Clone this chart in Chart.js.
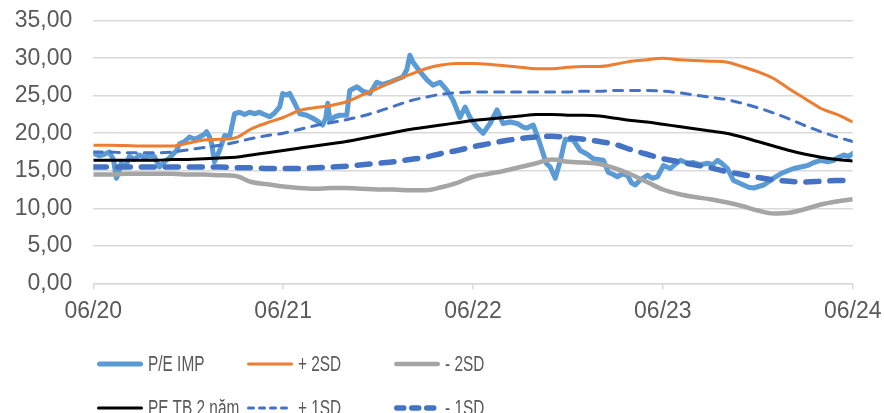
<!DOCTYPE html>
<html>
<head>
<meta charset="utf-8">
<script src="https://cdn.jsdelivr.net/npm/chart.js@4/dist/chart.umd.min.js"></script>
<style>
  html, body { margin: 0; padding: 0; background: #fff; }
  #wrap { position: relative; width: 884px; height: 413px; overflow: hidden; }
  #chart { position: absolute; left: 0; top: 0; }
  #legend { position: absolute; left: 0; top: 0; width: 884px; height: 413px; pointer-events: none;
            font-family: "Liberation Sans", Arial, sans-serif; }
  .item { position: absolute; display: flex; align-items: center; height: 30px; margin-top: -15px; }
  .item svg { display: block; }
  .item span { font-size: 22px; color: #595959; white-space: nowrap; margin-left: 5px;
               display: inline-block; transform: scaleX(0.7); transform-origin: left center; }
</style>
</head>
<body>
<div id="wrap">
  <canvas id="chart" width="884" height="330"></canvas>
  <div id="legend"></div>
</div>
<script>
// Axis labels
const tickMonths = [0, 12, 24, 36, 48];
const tickLabels = ['06/20', '06/21', '06/22', '06/23', '06/24'];

// Band series sampled monthly from 06/2020 (month 0) to 06/2024 (month 48)
const bandMonths = Array.from({ length: 49 }, (_, i) => i);
const plus2SD = [18.4, 18.4, 18.35, 18.3, 18.3, 18.3, 18.7, 19.1, 19.2, 19.4, 20.6, 21.4,
  22.1, 23.0, 23.4, 23.7, 24.2, 25.1, 26.0, 27.0, 27.8, 28.6, 29.1, 29.3,
  29.3, 29.2, 29.0, 28.8, 28.6, 28.6, 28.8, 28.9, 28.9, 29.2, 29.6, 29.8,
  30.0, 29.8, 29.7, 29.6, 29.5, 28.9, 28.2, 27.3, 25.9, 24.6, 23.3, 22.5, 21.5];
const plus1SD = [17.5, 17.5, 17.4, 17.4, 17.4, 17.5, 17.8, 18.1, 18.4, 18.8, 19.3, 19.7,
  20.0, 20.5, 21.0, 21.4, 21.8, 22.3, 22.9, 23.6, 24.3, 24.8, 25.2, 25.4,
  25.5, 25.5, 25.5, 25.5, 25.5, 25.5, 25.5, 25.6, 25.6, 25.7, 25.7, 25.7,
  25.6, 25.4, 25.1, 24.8, 24.5, 24.0, 23.4, 22.7, 21.9, 21.0, 20.2, 19.5, 18.9];
const mean2Y = [16.4, 16.4, 16.4, 16.4, 16.4, 16.5, 16.5, 16.6, 16.7, 16.8, 17.1, 17.4,
  17.7, 18.0, 18.3, 18.6, 18.9, 19.3, 19.7, 20.1, 20.5, 20.8, 21.1, 21.4,
  21.7, 21.9, 22.1, 22.3, 22.5, 22.5, 22.4, 22.4, 22.3, 22.0, 21.7, 21.5,
  21.2, 20.9, 20.6, 20.3, 20.0, 19.5, 18.9, 18.3, 17.7, 17.2, 16.8, 16.5, 16.3];
const minus1SD = [15.5, 15.5, 15.5, 15.5, 15.5, 15.5, 15.5, 15.5, 15.5, 15.4, 15.4, 15.3,
  15.3, 15.3, 15.4, 15.5, 15.6, 15.8, 16.0, 16.2, 16.5, 16.8, 17.3, 17.7,
  18.2, 18.6, 19.0, 19.3, 19.5, 19.6, 19.4, 19.2, 18.9, 18.5, 17.8, 17.2,
  16.6, 16.2, 15.8, 15.4, 14.9, 14.5, 14.1, 13.8, 13.6, 13.5, 13.6, 13.7, 13.7];
const minus2SD = [14.5, 14.5, 14.6, 14.6, 14.6, 14.6, 14.5, 14.5, 14.4, 14.3, 13.5, 13.2,
  12.9, 12.7, 12.6, 12.7, 12.7, 12.6, 12.5, 12.5, 12.4, 12.4, 12.8, 13.4,
  14.2, 14.6, 15.0, 15.5, 16.0, 16.5, 16.2, 16.1, 15.9, 15.3, 14.5, 13.5,
  12.5, 11.9, 11.5, 11.2, 10.8, 10.3, 9.7, 9.3, 9.4, 9.9, 10.5, 10.9, 11.2];

// Daily P/E, sampled (months since 06/2020)
const peMonths = [0, 0.38, 0.70, 1.01, 1.27, 1.46, 1.65, 1.77, 2.03, 2.28,
  2.60, 2.91, 3.23, 3.55, 3.86, 4.18, 4.50, 4.81, 5.26, 5.45,
  5.76, 6.08, 6.40, 6.71, 6.97, 7.16, 7.35, 7.47, 7.66, 7.98,
  8.30, 8.61, 8.93, 9.25, 9.56, 9.88, 10.20, 10.51, 10.70, 11.15,
  11.46, 11.78, 11.97, 12.22, 12.41, 12.73, 13.05, 13.49, 13.87, 14.19,
  14.50, 14.69, 14.82, 14.95, 15.26, 15.58, 16.02, 16.21, 16.66, 17.04,
  17.48, 17.92, 18.30, 18.75, 19.19, 19.57, 19.82, 20.01, 20.20, 20.65,
  21.09, 21.47, 21.91, 22.36, 22.74, 23.18, 23.50, 23.81, 24.26, 24.64,
  25.08, 25.52, 25.90, 26.35, 26.79, 27.17, 27.42, 27.80, 28.06, 28.37,
  28.63, 28.88, 29.20, 29.51, 29.83, 30.34, 30.78, 31.22, 31.60, 32.24,
  32.55, 32.87, 33.12, 33.44, 33.76, 34.01, 34.26, 34.58, 35.02, 35.34,
  35.66, 36.04, 36.48, 36.80, 37.11, 37.56, 37.94, 38.38, 38.82, 39.14,
  39.46, 39.77, 40.09, 40.47, 40.79, 41.10, 41.42, 41.73, 42.05, 42.37,
  42.81, 43.13, 43.44, 43.89, 44.27, 44.71, 45.15, 45.54, 45.98, 46.42,
  46.80, 47.12, 47.44, 47.75, 48.00];
const peValues = [17.3, 17.0, 17.2, 17.5, 16.5, 14.0, 15.0, 16.0, 15.5, 16.9,
  16.5, 17.1, 16.8, 17.0, 16.9, 15.5, 16.2, 16.7, 17.7, 18.6,
  18.9, 19.5, 19.2, 19.5, 19.8, 20.2, 19.5, 18.7, 16.2, 17.7,
  19.7, 19.5, 22.6, 22.8, 22.5, 22.8, 22.6, 22.8, 22.6, 22.2,
  22.7, 23.5, 25.3, 25.1, 25.3, 24.0, 22.6, 22.4, 22.0, 21.6,
  21.1, 22.0, 24.0, 21.7, 22.2, 22.4, 22.4, 25.7, 26.2, 25.6,
  25.3, 26.8, 26.5, 26.8, 27.2, 27.5, 28.5, 30.4, 29.5, 28.2,
  27.1, 26.4, 26.8, 25.7, 24.4, 22.1, 23.5, 22.1, 20.8, 20.0,
  21.3, 23.1, 21.3, 21.5, 21.3, 20.8, 20.7, 21.1, 19.7, 17.7,
  16.0, 15.5, 14.0, 16.3, 19.2, 19.1, 17.7, 17.2, 16.6, 16.4,
  14.8, 14.5, 14.2, 14.6, 14.4, 13.4, 13.1, 13.8, 14.4, 14.0,
  14.2, 15.7, 15.3, 15.9, 16.4, 16.0, 16.1, 15.8, 16.0, 15.8,
  16.4, 15.9, 15.3, 13.7, 13.4, 13.1, 12.8, 12.7, 12.9, 13.1,
  13.7, 14.2, 14.6, 15.0, 15.3, 15.5, 15.7, 16.1, 16.4, 16.2,
  16.4, 16.8, 17.1, 16.9, 17.3];

const seriesNames = ['P/E IMP', '+ 2SD', '- 2SD', 'PE TB 2 năm', '+ 1SD', '- 1SD'];

const pts = (xs, ys) => xs.map((x, i) => ({ x, y: ys[i] }));
const smooth = { tension: 0.4, cubicInterpolationMode: 'monotone' };

const datasets = [
  { label: seriesNames[0], data: pts(peMonths, peValues), borderColor: '#5b9bd5', borderWidth: 5,
    tension: 0, order: 6, borderJoinStyle: 'round', borderCapStyle: 'round', legendDash: [] },
  { label: seriesNames[1], data: pts(bandMonths, plus2SD), borderColor: '#ed7d31', borderWidth: 3,
    ...smooth, order: 5, legendDash: [] },
  { label: seriesNames[2], data: pts(bandMonths, minus2SD), borderColor: '#a5a5a5', borderWidth: 4.5,
    ...smooth, order: 4, legendDash: [] },
  { label: seriesNames[3], data: pts(bandMonths, mean2Y), borderColor: '#000000', borderWidth: 3,
    ...smooth, order: 3, legendDash: [] },
  { label: seriesNames[4], data: pts(bandMonths, plus1SD), borderColor: '#4472c4', borderWidth: 3,
    borderDash: [9, 8], borderCapStyle: 'round', ...smooth, order: 2, legendDash: [5, 6] },
  { label: seriesNames[5], data: pts(bandMonths, minus1SD), borderColor: '#4472c4', borderWidth: 5.5,
    borderDash: [13, 11], borderCapStyle: 'round', ...smooth, order: 1, legendDash: [7, 8] }
];

const tickFont = { family: '"Liberation Sans", Arial, sans-serif', size: 23 };
const textColor = '#595959';
const gridColor = '#d9d9d9';

const chart = new Chart(document.getElementById('chart'), {
  type: 'line',
  data: { datasets },
  options: {
    responsive: false,
    animation: false,
    // the plot area spans x 93.3..852.7 and y 20.7..283.3
    layout: { padding: { left: 0, right: 31.3, top: 20.7, bottom: 0 } },
    elements: { point: { radius: 0, hoverRadius: 0 } },
    plugins: { legend: { display: false }, tooltip: { enabled: false } },
    scales: {
      x: {
        type: 'linear', min: 0, max: 48,
        afterBuildTicks: (s) => { s.ticks = tickMonths.map(v => ({ value: v })); },
        afterFit: (s) => { s.height = 46.7; s.paddingLeft = 0; s.paddingRight = 0; },
        ticks: {
          autoSkip: false, maxRotation: 0, padding: 9, color: textColor, font: tickFont,
          callback: (v, i) => tickLabels[i]
        },
        grid: { drawOnChartArea: false, drawTicks: true, tickLength: 6, color: gridColor, lineWidth: 1.5 },
        border: { display: true, color: gridColor, width: 1.5 }
      },
      y: {
        min: 0, max: 35,
        afterFit: (s) => { s.width = 93.3; s.paddingTop = 0; s.paddingBottom = 0; },
        ticks: {
          stepSize: 5, padding: 21, color: textColor, font: tickFont,
          callback: (v) => v.toFixed(2).replace('.', ',')
        },
        grid: { color: gridColor, lineWidth: 1.5, drawTicks: false },
        border: { display: false }
      }
    }
  }
});

// Legend: three columns, two rows, built from the chart's datasets
const legendCols = [97, 247, 394];
const legendRows = [364, 408];
const legendEl = document.getElementById('legend');
chart.data.datasets.forEach((ds, i) => {
  const item = document.createElement('div');
  item.className = 'item';
  item.style.left = legendCols[i % 3] + 'px';
  item.style.top = legendRows[Math.floor(i / 3)] + 'px';
  const w = 46, h = 12, lw = ds.borderWidth;
  const dash = ds.legendDash.length ? ` stroke-dasharray="${ds.legendDash.join(' ')}"` : '';
  item.innerHTML =
    `<svg width="${w}" height="${h}" viewBox="0 0 ${w} ${h}">` +
    `<line x1="${lw / 2}" y1="${h / 2}" x2="${w - lw / 2}" y2="${h / 2}" stroke="${ds.borderColor}" ` +
    `stroke-width="${lw}" stroke-linecap="round"${dash}/></svg>` +
    `<span>${ds.label}</span>`;
  legendEl.appendChild(item);
});
</script>
</body>
</html>
